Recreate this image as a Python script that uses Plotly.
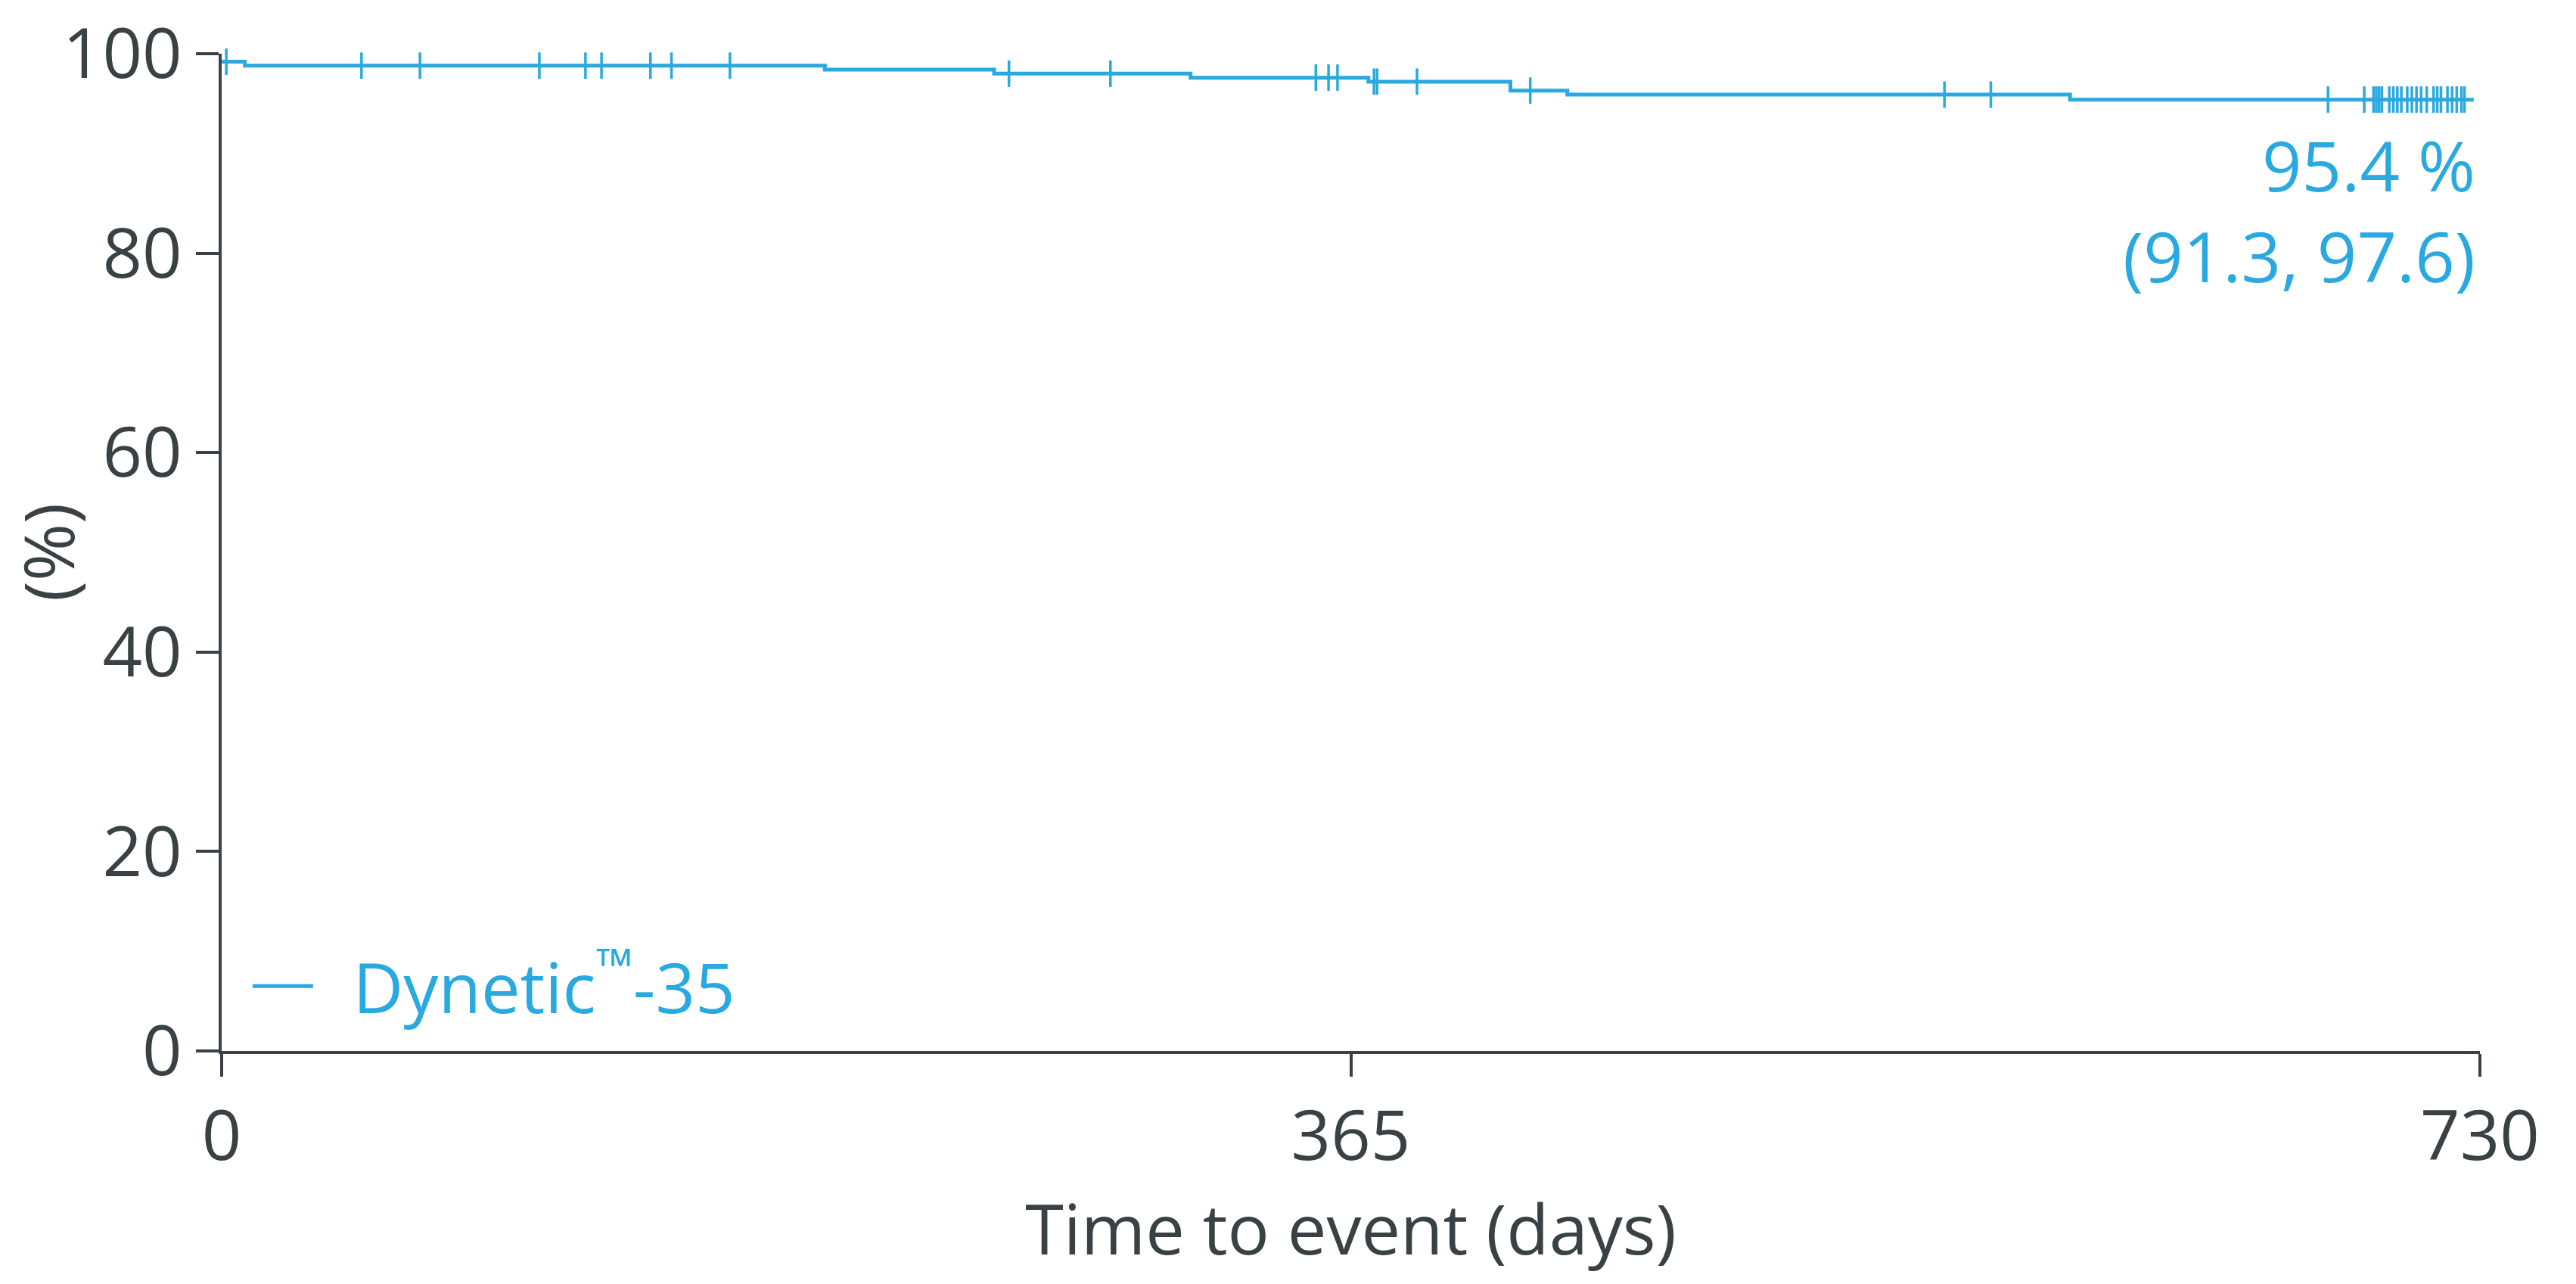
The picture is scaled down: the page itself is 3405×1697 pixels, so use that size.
import numpy as np
import plotly.graph_objects as go

# Kaplan-Meier step data (days, survival %)
event_days = [0, 7.5, 195, 249.7, 313.2, 370.7, 416.6, 435, 597.5, 728]
surv_pct = [99.2, 98.8, 98.4, 98.0, 97.6, 97.2, 96.3, 95.9, 95.4, 95.4]

# Censoring times (days)
censor_days = [1.5, 45.2, 64.1, 102.7, 117.6, 122.8, 138.6, 145.4, 164.3,
               254.5, 287.3, 353.7, 357.8, 360.7, 372.5, 373.5, 386.4, 423.0,
               556.9, 571.9, 680.9, 692.6,
               695.6, 696.5, 697.4, 698.3,
               700.7, 702.0, 703.3, 704.6,
               706.5, 708.0, 709.5, 711.0, 712.8,
               715.0, 716.2, 717.4,
               719.5, 721.0, 722.5, 724.0, 725.0]

x_ticks = [0, 365, 730]
y_ticks = [0, 20, 40, 60, 80, 100]
series_name = "\u00a0\u00a0Dynetic<sup>™</sup>-35"
label_est = "95.4 %"
label_ci = "(91.3, 97.6)"

BLUE = "#29a9e0"
GREY = "#3a4144"
FONT = "Open Sans"
FS = 92

# step-function lookup for censor mark heights
ed = np.array(event_days)
sv = np.array(surv_pct)
censor_y = [sv[np.searchsorted(ed, d, side="right") - 1] for d in censor_days]

fig = go.Figure()
fig.add_trace(go.Scatter(
    x=event_days, y=surv_pct, mode="lines", line=dict(color=BLUE, width=5, shape="hv"),
    name=series_name, showlegend=True, cliponaxis=False))
fig.add_trace(go.Scatter(
    x=censor_days, y=censor_y, mode="markers",
    marker=dict(symbol="line-ns", size=25, line=dict(color=BLUE, width=3.5)),
    showlegend=False, cliponaxis=False))

fig.add_annotation(x=1, xref="paper", y=84.3, yref="y",
                   text=label_est + "<br>" + label_ci, showarrow=False,
                   xanchor="right", yanchor="middle", align="right", xshift=-4,
                   font=dict(family=FONT, size=FS, color=BLUE))

fig.update_layout(
    width=3405, height=1697,
    margin=dict(l=293, r=127, t=71, b=308, autoexpand=False),
    paper_bgcolor="white", plot_bgcolor="white",
    font=dict(family=FONT, size=FS, color=GREY),
    legend=dict(x=0.012, y=0.065, xanchor="left", yanchor="middle",
                font=dict(family=FONT, size=FS, color=BLUE),
                bgcolor="rgba(0,0,0,0)", itemwidth=80),
    xaxis=dict(range=[0, 730], tickvals=x_ticks, ticktext=[str(v) for v in x_ticks],
               automargin=False,
               showgrid=False, zeroline=False, showline=True, linecolor=GREY, linewidth=4,
               ticks="outside", ticklen=30, tickwidth=4, tickcolor=GREY,
               tickfont=dict(family=FONT, size=FS, color=GREY),
               title=dict(text="Time to event (days)", font=dict(family=FONT, size=FS, color=GREY))),
    yaxis=dict(range=[0, 100], tickvals=y_ticks, ticktext=[str(v) for v in y_ticks],
               automargin=False,
               showgrid=False, zeroline=False, showline=True, linecolor=GREY, linewidth=4,
               ticks="outside", ticklen=30, tickwidth=4, tickcolor=GREY,
               tickfont=dict(family=FONT, size=FS, color=GREY),
               title=dict(text="(%)", font=dict(family=FONT, size=FS, color=GREY))),
)

fig.write_html("out.html")
